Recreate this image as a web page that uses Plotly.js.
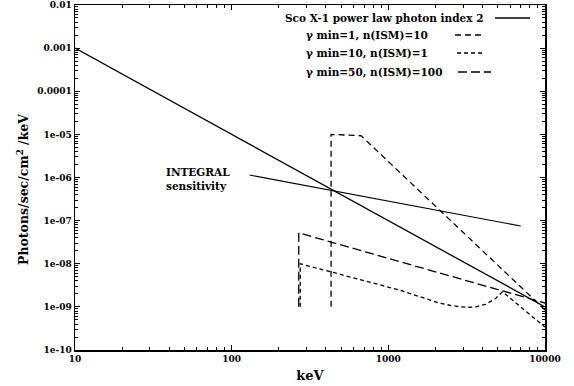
<!DOCTYPE html>
<html>
<head>
<meta charset="utf-8">
<script src="https://cdn.plot.ly/plotly-3.0.1.min.js"></script>
<style>html,body{margin:0;padding:0;background:#fff;}#chart{width:574px;height:386px;}</style>
</head>
<body>
<div id="chart"></div>
<script>
// ---- data ----
const scoX = [10, 10000];
const scoY = [1e-3, 1e-9];
const integralX = [130, 7000];
const integralY = [1.14e-6, 7.5e-8];
const g1X = [431, 431, 670, 10000];
const g1Y = [1e-9, 1e-5, 9.3e-6, 8.5e-10];
const g10X = [274, 274, 1175, 1575, 2113, 2500, 2831, 3250, 3619, 4190, 4853, 5350, 10000];
const g10Y = [1e-9, 1e-8, 2.46e-9, 1.72e-9, 1.23e-9, 1.08e-9, 1.01e-9, 0.98e-9, 1.0e-9, 1.15e-9, 1.58e-9, 2.24e-9, 3.4e-10];
const g50X = [268, 268, 10000];
const g50Y = [1e-9, 5.2e-8, 1.23e-9];
const xTickVals = [10, 100, 1000, 10000];
const xTickText = ['10', '100', '1000', '10000'];
const yTickVals = [1e-10, 1e-9, 1e-8, 1e-7, 1e-6, 1e-5, 1e-4, 1e-3, 1e-2];
const yTickText = ['1e-10', '1e-09', '1e-08', '1e-07', '1e-06', '1e-05', '0.0001', '0.001', '0.01'];
const legendNames = ['Sco X-1 power law photon index 2', 'γ min=1, n(ISM)=10', 'γ min=10, n(ISM)=1', 'γ min=50, n(ISM)=100'];

// ---- layout helpers ----
const W = 574, H = 386, L = 75, R = 29, T = 5, B = 36;
const px = x => (x - L) / (W - L - R);
const py = y => (H - B - y) / (H - T - B);
const F = 'DejaVu Serif, Liberation Serif, serif';
const lw = 1.3;

const traces = [
  {x: scoX, y: scoY, mode: 'lines', line: {color: '#000', width: lw}, name: legendNames[0]},
  {x: integralX, y: integralY, mode: 'lines', line: {color: '#000', width: 1.1}, name: 'INTEGRAL sensitivity'},
  {x: g1X, y: g1Y, mode: 'lines', line: {color: '#000', width: lw, dash: '6px,4px'}, name: legendNames[1]},
  {x: g10X, y: g10Y, mode: 'lines', line: {color: '#000', width: lw, dash: '4px,3px'}, name: legendNames[2]},
  {x: g50X, y: g50Y, mode: 'lines', line: {color: '#000', width: lw, dash: '9px,4px'}, name: legendNames[3]}
];

const legRows = [
  {tx: 283, y: 18, x0: 495, x1: 530, dash: 'solid'},
  {tx: 304, y: 35, x0: 455, x1: 484, dash: '6px,4px'},
  {tx: 304, y: 53, x0: 457, x1: 485, dash: '4px,3px'},
  {tx: 304, y: 72, x0: 458, x1: 491, dash: '9px,4px'}
];

const annotations = legRows.map((r, i) => ({
  xref: 'paper', yref: 'paper', x: px(r.tx), y: py(r.y), xanchor: 'left', yanchor: 'middle',
  text: legendNames[i], showarrow: false, font: {family: F, size: 10.5, color: '#000', weight: 'bold'}
}));
annotations.push({
  xref: 'paper', yref: 'paper', x: px(164), y: py(179), xanchor: 'left', yanchor: 'middle', align: 'left',
  text: 'INTEGRAL<br>sensitivity', showarrow: false, font: {family: F, size: 10.5, color: '#000', weight: 'bold'}
});
annotations.push({
  xref: 'paper', yref: 'paper', x: px(23), y: py(190), xanchor: 'center', yanchor: 'middle', textangle: -90,
  text: 'Photons/sec/cm<sup>2</sup> /keV', showarrow: false, font: {family: F, size: 12.5, color: '#000', weight: 'bold'}
});

const shapes = legRows.map(r => ({
  type: 'line', xref: 'paper', yref: 'paper', x0: px(r.x0), x1: px(r.x1), y0: py(r.y), y1: py(r.y),
  line: {color: '#000', width: lw, dash: r.dash}
}));

const axisCommon = {
  type: 'log', showgrid: false, zeroline: false, showline: true, linecolor: '#000', linewidth: 1.5,
  mirror: 'ticks', ticks: 'inside', ticklen: 5, tickwidth: 1, tickcolor: '#000',
  ticklabeloverflow: 'allow',
  tickfont: {family: F, size: 9, color: '#000', weight: 'bold'},
  minor: {ticks: 'inside', ticklen: 3, tickwidth: 1, tickcolor: '#000', dtick: 'D1', showgrid: false}
};

const layout = {
  width: W, height: H,
  margin: {l: L, r: R, t: T, b: B, pad: 0},
  paper_bgcolor: '#fff', plot_bgcolor: '#fff',
  showlegend: false,
  xaxis: Object.assign({}, axisCommon, {
    range: [1, 4], tickvals: xTickVals, ticktext: xTickText,
    title: {text: 'keV', font: {family: F, size: 13, color: '#000', weight: 'bold'}, standoff: 7}
  }),
  yaxis: Object.assign({}, axisCommon, {
    range: [-10, -2], tickvals: yTickVals, ticktext: yTickText
  }),
  annotations: annotations,
  shapes: shapes
};

Plotly.newPlot('chart', traces, layout, {staticPlot: true, displayModeBar: false});
</script>
</body>
</html>
